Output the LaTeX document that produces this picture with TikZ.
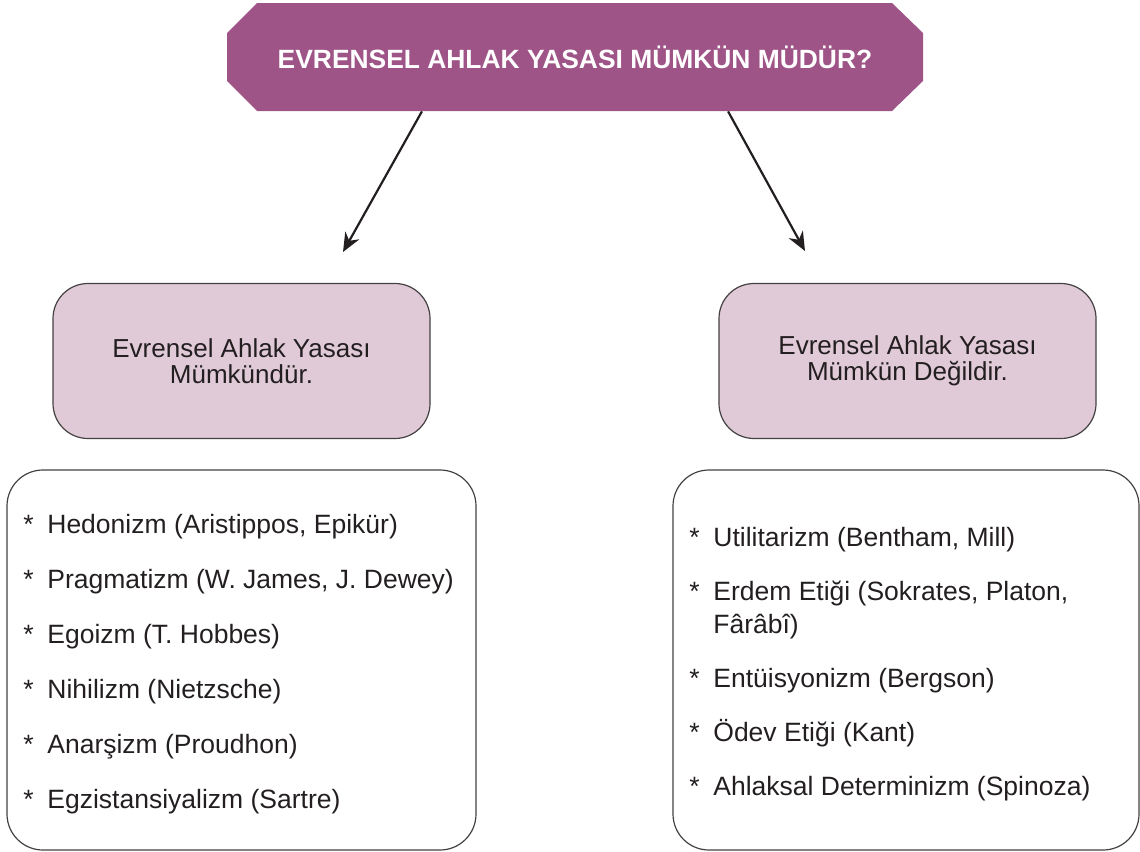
\documentclass[tikz,border=0pt]{standalone}
\usepackage{fontspec}
\setmainfont{Liberation Sans}
\usetikzlibrary{calc,arrows.meta}
\definecolor{titlepurple}{RGB}{159,84,135}
\definecolor{boxpink}{RGB}{225,202,216}
\definecolor{inkblack}{RGB}{35,31,32}
\def\entry{\makebox[12pt][l]{*}}
\tikzset{
  titlebox/.style={minimum width=347.5pt, minimum height=54pt, inner sep=0pt, text=white, font=\bfseries\fontsize{13.2}{14}\selectfont},
  answerbox/.style={draw=inkblack!85, line width=0.6pt, fill=boxpink, rounded corners=17.5pt, minimum width=188.5pt, minimum height=77.5pt, inner sep=0pt, align=center, text=inkblack, font=\fontsize{13}{13.2}\selectfont},
  listbox/.style={draw=inkblack!85, line width=0.6pt, rounded corners=18pt, minimum height=190pt, inner sep=0pt},
  listtext/.style={anchor=north west, align=left, inner sep=0pt, text=inkblack, font=\fontsize{13.25}{16.5}\selectfont},
  pointer/.style={draw=inkblack, line width=1.1pt, -{Stealth[length=9.5pt,width=8pt]}}
}
\begin{document}
\begin{tikzpicture}[x=0.5pt, y=-0.5pt]
			%%%%% START %%%%%
			\useasboundingbox (0, 0) rectangle (1140, 851);
			
			\fill[titlepurple] (227, 33) -- (257, 3) -- (892, 3) -- (923, 33) -- (923, 81) -- (892, 111) -- (257, 111) -- (227, 81) -- cycle;
			\node[titlebox] (title) at (575, 57) {EVRENSEL AHLAK YASASI MÜMKÜN MÜDÜR?};
			
			\node[answerbox] (yes) at (241.5, 361) {Evrensel Ahlak Yasası\\Mümkündür.};
			\node[answerbox] (no) at (907.5, 361) {Evrensel Ahlak Yasası\\Mümkün Değildir.};
			
			\coordinate (tipL) at (343, 252);
			\coordinate (tipR) at (805, 251);
			\draw[pointer] ($(title.south west)!0.28!(title.south east)$) -- (tipL);
			\draw[pointer] ($(title.south west)!0.72!(title.south east)$) -- (tipR);
			
			\node[listbox, minimum width=234.5pt] (yeslist) at (241.5, 660) {};
			\node[listbox, minimum width=233pt] (nolist) at (906, 660) {};
			
			\node[listtext] (yesitems) at (23, 514) {\entry Hedonizm (Aristippos, Epikür)\\[11pt]
				\entry Pragmatizm (W. James, J. Dewey)\\[11pt]
				\entry Egoizm (T. Hobbes)\\[11pt]
				\entry Nihilizm (Nietzsche)\\[11pt]
				\entry Anarşizm (Proudhon)\\[11pt]
				\entry Egzistansiyalizm (Sartre)};
			\node[listtext] (noitems) at (689, 527) {\entry Utilitarizm (Bentham, Mill)\\[10.5pt]
				\entry Erdem Etiği (Sokrates, Platon,\\
				\makebox[12pt]{}Fârâbî)\\[10.5pt]
				\entry Entüisyonizm (Bergson)\\[10.5pt]
				\entry Ödev Etiği (Kant)\\[10.5pt]
				\entry Ahlaksal Determinizm (Spinoza)};
			
			%%%%% END %%%%%
\end{tikzpicture}
\end{document}
